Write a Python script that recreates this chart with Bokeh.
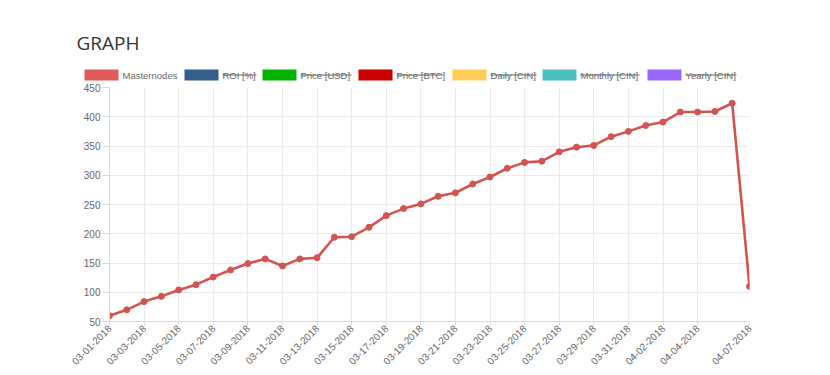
from bokeh.plotting import figure
from bokeh.models import Range1d, FixedTicker
from bokeh.core.properties import value
from bokeh.embed import file_html
from bokeh.resources import INLINE

# ---------------- data ----------------
dates = [
    "03-01-2018", "03-02-2018", "03-03-2018", "03-04-2018", "03-05-2018",
    "03-06-2018", "03-07-2018", "03-08-2018", "03-09-2018", "03-10-2018",
    "03-11-2018", "03-12-2018", "03-13-2018", "03-14-2018", "03-15-2018",
    "03-16-2018", "03-17-2018", "03-18-2018", "03-19-2018", "03-20-2018",
    "03-21-2018", "03-22-2018", "03-23-2018", "03-24-2018", "03-25-2018",
    "03-26-2018", "03-27-2018", "03-28-2018", "03-29-2018", "03-30-2018",
    "03-31-2018", "04-01-2018", "04-02-2018", "04-03-2018", "04-04-2018",
    "04-05-2018", "04-06-2018", "04-07-2018",
]
masternodes = [
    60, 70, 84, 93, 104, 113, 126, 138, 149, 157,
    145, 157, 159, 194, 195, 211, 231, 243, 251, 264,
    270, 285, 297, 312, 322, 324, 340, 348, 351, 366,
    375, 385, 391, 408, 408, 409, 423, 110,
]
tick_labels = [
    "03-01-2018", "03-03-2018", "03-05-2018", "03-07-2018", "03-09-2018",
    "03-11-2018", "03-13-2018", "03-15-2018", "03-17-2018", "03-19-2018",
    "03-21-2018", "03-23-2018", "03-25-2018", "03-27-2018", "03-29-2018",
    "03-31-2018", "04-02-2018", "04-04-2018", "04-07-2018",
]
y_ticks = [50, 100, 150, 200, 250, 300, 350, 400, 450]

legend_labels = ["Masternodes", "ROI [%]", "Price [USD]", "Price [BTC]",
                 "Daily [CIN]", "Monthly [CIN]", "Yearly [CIN]"]
legend_colors = ["#e05a5a", "#335e8c", "#00b400", "#cc0000",
                 "#ffcd56", "#4bc0c0", "#9966ff"]
legend_hidden = [False, True, True, True, True, True, True]

# ---------------- layout constants (header, page px) ----------------
W = 830
H_HEAD = 82
box_left = [84, 184, 262, 358, 452, 542, 647]
text_right = [177, 256, 351, 443, 536, 639, 736]
BOX_W = 34
BOX_TOP, BOX_BOT = 69, 80
LEG_MID = 74.5

FONT = value("Liberation Sans")

# ---------------- header ----------------
head = figure(width=W, height=H_HEAD, x_range=Range1d(0, W), y_range=Range1d(H_HEAD, 0),
              x_axis_type=None, y_axis_type=None, toolbar_location=None,
              output_backend="svg", min_border=0, outline_line_color=None)
head.grid.visible = False

head.text(x=[76], y=[42], text=["GRAPH"], text_font=value("Open Sans"),
          text_font_size="19px", text_color="#333333", text_baseline="alphabetic")

bl = box_left
head.quad(left=bl, right=[b + BOX_W for b in bl], top=[BOX_TOP] * len(bl),
          bottom=[BOX_BOT] * len(bl), fill_color=legend_colors, line_color=None)
tx = [b + BOX_W + 4 for b in bl]
head.text(x=tx, y=[LEG_MID] * len(tx), text=legend_labels, text_font=FONT,
          text_font_size="9.5px", text_color="#666666", text_baseline="middle")
sx0 = [t for t, h in zip(tx, legend_hidden) if h]
sx1 = [r for r, h in zip(text_right, legend_hidden) if h]
head.segment(x0=sx0, x1=sx1, y0=[LEG_MID] * len(sx0), y1=[LEG_MID] * len(sx0),
             line_color="#666666", line_width=1)

# ---------------- main chart ----------------
idx = list(range(len(dates)))
p = figure(width=W, height=375 - H_HEAD, x_range=Range1d(0, len(dates) - 1),
           y_range=Range1d(50, 450), toolbar_location=None, output_backend="svg",
           min_border_left=109, min_border_right=81, min_border_top=5,
           min_border_bottom=54, outline_line_color=None)

tick_pos = [dates.index(t) for t in tick_labels]
p.xaxis.ticker = FixedTicker(ticks=tick_pos)
p.xaxis.major_label_overrides = {i: dates[i] for i in tick_pos}
p.xaxis.major_label_orientation = 0.785398
p.yaxis.ticker = FixedTicker(ticks=y_ticks)

for ax in (p.xaxis, p.yaxis):
    ax.axis_line_color = "#d9d9d9"
    ax.major_tick_line_color = "#d9d9d9"
    ax.minor_tick_line_color = None
    ax.major_label_text_color = "#666666"
    ax.major_label_text_font = "Liberation Sans"
    ax.major_label_text_font_size = "10px"
p.yaxis.major_tick_out = 7
p.yaxis.major_tick_in = 0
p.yaxis.major_label_standoff = 2
p.xaxis.major_tick_out = 4
p.xaxis.major_tick_in = 0
p.xaxis.major_label_standoff = 1

p.grid.grid_line_color = "#ebebeb"
p.grid.grid_line_width = 1

p.line(idx, masternodes, line_color="#d25450", line_width=2.6)
p.scatter(idx, masternodes, size=6, fill_color="#d25450", line_color="#d25450")

open("out.html", "w").write(file_html([head, p], INLINE))
